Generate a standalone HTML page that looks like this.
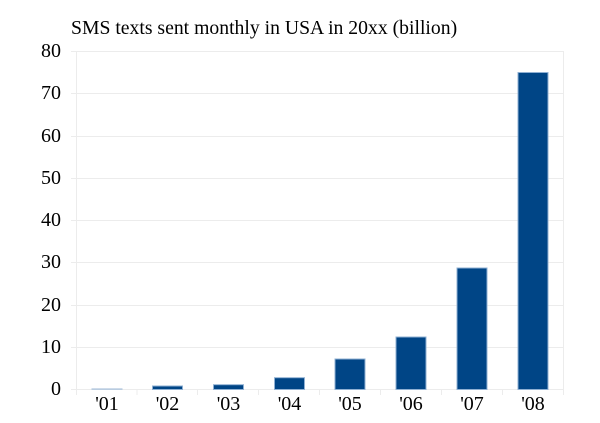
<!DOCTYPE html>
<html><head><meta charset="utf-8"><style>
html,body{margin:0;padding:0;background:#fff;}
svg{display:block;}
.t{font-family:"Liberation Serif","Times New Roman","Nimbus Roman","DejaVu Serif","Noto Serif CJK SC",serif;fill:#000;}
</style></head><body>
<svg width="600" height="423" viewBox="0 0 600 423" xmlns="http://www.w3.org/2000/svg">
<text class="t" x="71" y="34" font-size="19.7">SMS texts sent monthly in USA in 20xx (billion)</text>
<g stroke="#ececec" stroke-width="1" fill="none">
<line x1="71" y1="51.5" x2="563.5" y2="51.5"/>
<line x1="71" y1="93.5" x2="563.5" y2="93.5"/>
<line x1="71" y1="136.5" x2="563.5" y2="136.5"/>
<line x1="71" y1="178.5" x2="563.5" y2="178.5"/>
<line x1="71" y1="220.5" x2="563.5" y2="220.5"/>
<line x1="71" y1="262.5" x2="563.5" y2="262.5"/>
<line x1="71" y1="305.5" x2="563.5" y2="305.5"/>
<line x1="71" y1="347.5" x2="563.5" y2="347.5"/>
<line x1="71" y1="389.5" x2="563.5" y2="389.5"/>
<line x1="76.5" y1="51" x2="76.5" y2="395"/>
<line x1="563.5" y1="51" x2="563.5" y2="395"/>
<line x1="137" y1="389" x2="137" y2="395"/>
<line x1="197.5" y1="389" x2="197.5" y2="395"/>
<line x1="258.5" y1="389" x2="258.5" y2="395"/>
<line x1="319.5" y1="389" x2="319.5" y2="395"/>
<line x1="380.5" y1="389" x2="380.5" y2="395"/>
<line x1="441.5" y1="389" x2="441.5" y2="395"/>
<line x1="502.5" y1="389" x2="502.5" y2="395"/>
</g>
<g class="t" font-size="20" text-anchor="end">
<text x="61" y="57">80</text>
<text x="61" y="99">70</text>
<text x="61" y="142">60</text>
<text x="61" y="184">50</text>
<text x="61" y="226">40</text>
<text x="61" y="268">30</text>
<text x="61" y="311">20</text>
<text x="61" y="353">10</text>
<text x="61" y="395">0</text>
</g>
<g fill="#004586" stroke="#8fb0d3" stroke-width="1">
<rect x="92" y="388.8" width="30" height="0.7" stroke="#b9cce0" fill="#b9cce0"/>
<rect x="152.5" y="386" width="30" height="3.5"/>
<rect x="213.5" y="384.7" width="30" height="4.8"/>
<rect x="274.5" y="377.7" width="30" height="11.8"/>
<rect x="335" y="359" width="30" height="30.5"/>
<rect x="396" y="337" width="30" height="52.5"/>
<rect x="457" y="268" width="30" height="121.5"/>
<rect x="518" y="72.5" width="30" height="317"/>
</g>
<g class="t" font-size="20" text-anchor="middle">
<text x="107" y="410">'01</text>
<text x="167.5" y="410">'02</text>
<text x="228.5" y="410">'03</text>
<text x="289.5" y="410">'04</text>
<text x="350" y="410">'05</text>
<text x="411" y="410">'06</text>
<text x="472" y="410">'07</text>
<text x="533" y="410">'08</text>
</g>
</svg>
</body></html>
